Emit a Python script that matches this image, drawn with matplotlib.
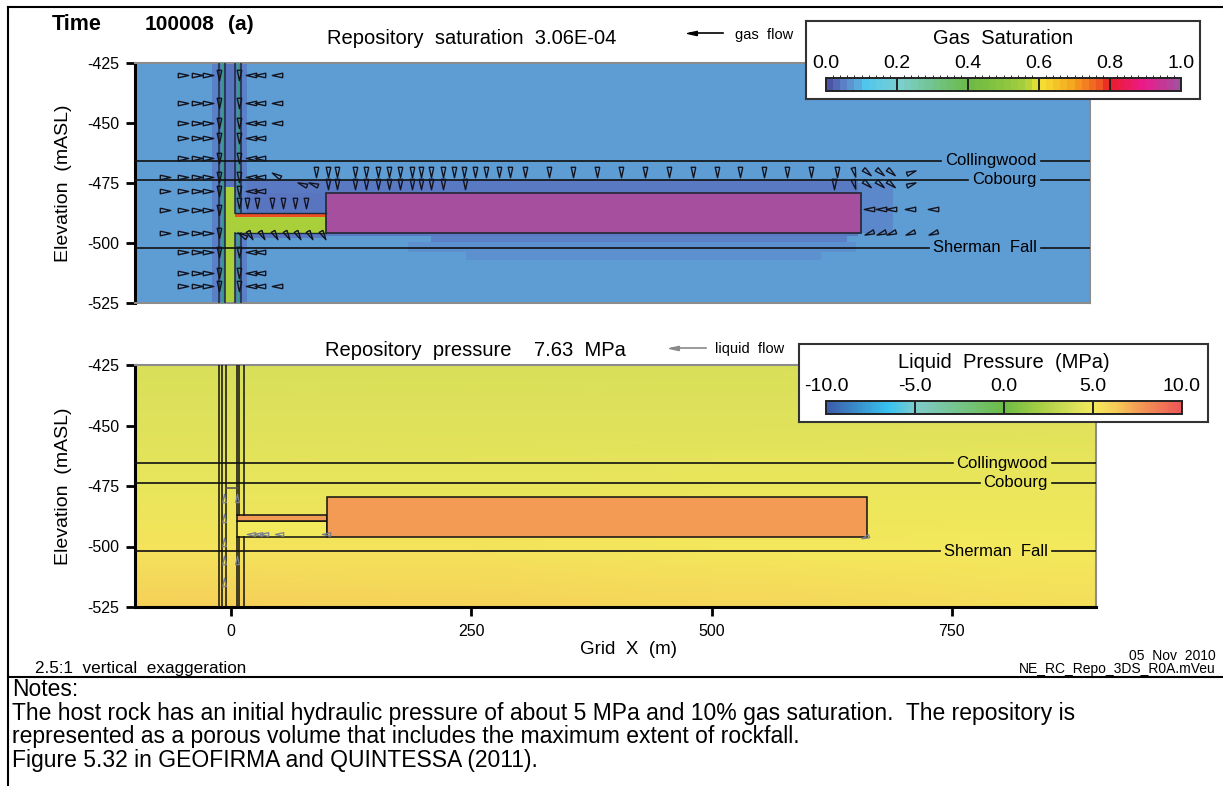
import numpy as np
import matplotlib
matplotlib.use("Agg")
import matplotlib.pyplot as plt
from matplotlib.colors import LinearSegmentedColormap, Normalize, BoundaryNorm
from matplotlib.cm import ScalarMappable
from matplotlib.patches import Rectangle
from matplotlib.lines import Line2D

plt.rcParams['font.family'] = ['Liberation Sans', 'DejaVu Sans']

W, H = 1223, 786

# model section (m)
grid_x_lim = (-100, 900)
elev_lim = (-525, -425)
x_ticks = [0, 250, 500, 750]
elev_ticks = [-425, -450, -475, -500, -525]

formation_names = ['Collingwood', 'Cobourg', 'Sherman  Fall']
formation_elev = [-465.7, -473.7, -502.0]

time_label = '100008'
repo_liquid_saturation = 3.06e-4
repo_pressure = 7.63

# gas saturation blocks: host rock, halo round the repository, shaft, drift, repository
sg_x0 = [-100, 186, 247, 657, 210, 100, 11, 11, 11, -19, 11, -12, 4.6, -6, -6, 4.6, 4.6, 100]
sg_x1 = [900, 655, 618, 694, 646, 657, 657, 100, 100, -12, 17, -6, 11, 4.6, 4.6, 100, 100, 660]
sg_z0 = [-525, -503.6, -507, -495.8, -499.5, -497, -479.3, -487.5, -498, -525, -525, -525, -525,
         -476.5, -525, -495.8, -489.2, -495.8]
sg_z1 = [-425, -499.5, -503.6, -475, -495.8, -495.8, -473.7, -479.3, -495.8, -425, -425, -425, -425,
         -425, -476.5, -489.2, -487.5, -479.3]
sg_val = [0.07, 0.057, 0.057, 0.05, 0.04, 0.035, 0.035, 0.03, 0.035, 0.04, 0.04, 0.03, 0.03,
          0.03, 0.56, 0.56, 0.78, 1.0 - repo_liquid_saturation]

# liquid pressure in the host rock (MPa), nodes on a coarse grid
p_grid_x = [-100, 250, 500, 900]
p_grid_z = [-525, -500, -475, -450, -425]
p_grid = [[6.1, 6.0, 5.8, 5.5],
          [5.3, 5.3, 5.1, 4.95],
          [4.5, 4.5, 4.6, 4.6],
          [4.1, 4.1, 4.1, 4.2],
          [3.9, 3.9, 3.9, 4.0]]

# drift and repository pressure blocks
p_x0 = [5.9, 5.9, 100]
p_x1 = [100, 100, 662]
p_z0 = [-496.2, -489.3, -496.2]
p_z1 = [-489.3, -487.0, -479.4]
p_val = [5.0, repo_pressure, repo_pressure]

# gas flow vectors
gas_rows = [-430.0, -441.5, -450.0, -456.4, -464.5, -472.4, -478.2, -486.2, -495.7, -503.9, -512.4, -517.9]
gas_west_cols = [-50.0, -35.0, -24.0]
gas_far_west_rows = [-472.4, -478.2, -486.2, -495.7]
gas_east_rows = [-430.0, -441.5, -450.0, -456.4, -464.5, -472.4, -478.2, -503.9, -512.4, -517.9]
gas_east_cols = [21.0, 31.0]
gas_far_east_rows = [-430.0, -441.5, -450.0, -517.9]
crown_a_x = [90, 102, 111, 130, 142, 154, 166, 178, 190, 199, 210, 222, 234, 244, 256, 268, 281,
             293, 308, 334, 359, 384, 409, 434, 459, 484, 509, 534, 559, 583, 608, 635]
crown_b_x = [102, 111, 130, 142, 154, 166, 178, 190, 199, 210, 222, 246, 632]
crown_edge_x = [653, 667, 680, 692, 713]
crown_edge_dir = [285, 320, 320, 320, 20]
flank_x = [669, 681, 692, 711, 736]
drift_roof_x = [8.7, 17.3, 27.7, 43.3, 55.4, 67.6, 79.0]
drift_floor_x = [20.8, 33.0, 46.8, 59.0, 71.0, 83.0, 97.0]

# liquid flow vectors
liq_x = [-7, -7, -7, -7, -7, 6.2, 6.2, 20.8, 28, 34, 50, 98.8, 660]
liq_z = [-480, -488.4, -498, -505.6, -514.6, -480, -505.6, -494.8, -494.8, -494.8, -494.8, -494.8, -496]
liq_dir = [90, 90, 90, 90, 90, 90, 90, 180, 180, 180, 180, 180, 200]

sg_cmap = LinearSegmentedColormap.from_list('gas', [
    (0.00, '#4a55a5'), (0.01, '#4f5ead'), (0.03, '#5a78c2'), (0.05, '#5b8bcc'),
    (0.07, '#5e9fd6'), (0.10, '#4fc6ee'), (0.20, '#7ccfcf'), (0.30, '#72c38a'),
    (0.40, '#6cb944'), (0.50, '#8cc63f'), (0.56, '#a8cf3b'), (0.60, '#f3e633'),
    (0.70, '#f5a21e'), (0.78, '#ef4e24'), (0.80, '#ec1c24'), (0.90, '#ec1a8a'),
    (1.00, '#a64f9e')])
sg_norm = Normalize(0, 1)

p_cmap = LinearSegmentedColormap.from_list('pres', [
    (0.0, '#3c5ba8'), (0.175, '#36c3f0'), (0.25, '#7fcbcc'), (0.5, '#6cbb45'),
    (0.6, '#a6ce45'), (0.7, '#dce05a'), (0.75, '#f3ea5c'), (0.82, '#f6c957'),
    (0.88, '#f39b55'), (1.0, '#ee5657')])
p_norm = Normalize(-10, 10)

fig = plt.figure(figsize=(W / 100, H / 100), dpi=100)


def fbox(l, t, r, b):
    return [l / W, 1 - b / H, (r - l) / W, (b - t) / H]


def fx(px):
    return px / W


def fy(py):
    return 1 - py / H


def flow_marker(angle):
    a = np.deg2rad(angle)
    base = np.array([[-0.5, 0.22], [0.5, 0.0], [-0.5, -0.22], [-0.5, 0.22]])
    rot = np.array([[np.cos(a), -np.sin(a)], [np.sin(a), np.cos(a)]])
    return base @ rot.T


def arrow(ax, x, z, angle, color='#14141f', ms=7.5, mew=1.0):
    ax.plot(x, z, ls='none', marker=flow_marker(angle), ms=ms, mfc='none', mec=color, mew=mew,
            zorder=6)


def setup_panel(ax, width_px):
    ax.set_xlim(grid_x_lim)
    ax.set_ylim(elev_lim)
    ax.set_yticks(elev_ticks)
    ax.set_yticklabels([str(v) for v in elev_ticks])
    ax.tick_params(axis='y', length=6.5, width=2, pad=5, labelsize=11.5)
    ax.set_ylabel('Elevation  (mASL)', fontsize=14)
    ax.yaxis.set_label_coords(-63 / width_px, 0.5)
    ax.spines['left'].set_linewidth(2.2)
    for s in ('top', 'right', 'bottom'):
        ax.spines[s].set_color('#8c8c8c')
        ax.spines[s].set_linewidth(1.5)


def formation_lines(ax, x_label):
    renderer = fig.canvas.get_renderer()
    inv = ax.transData.inverted()
    for name, z in zip(formation_names, formation_elev):
        t = ax.text(x_label, z, name, ha='right', va='center', fontsize=12, zorder=7)
        bb = t.get_window_extent(renderer)
        xl = inv.transform((bb.x0 - 4, 0))[0]
        xr = inv.transform((bb.x1 + 4, 0))[0]
        ax.plot([grid_x_lim[0], xl], [z, z], color='#111111', lw=1.2, zorder=5)
        ax.plot([xr, grid_x_lim[1]], [z, z], color='#111111', lw=1.2, zorder=5)


def colorbar_box(box, bar, cmap, norm, levels, labels, title, title_y, dividers, stepped):
    bax = fig.add_axes(fbox(*box))
    bax.set_xticks([])
    bax.set_yticks([])
    for s in bax.spines.values():
        s.set_color('#333333')
        s.set_linewidth(1.5)
    bax.set_zorder(8)
    cax = fig.add_axes(fbox(*bar))
    cax.set_zorder(9)
    if stepped:
        sm = ScalarMappable(norm=BoundaryNorm(np.linspace(norm.vmin, norm.vmax, 51), 256), cmap=cmap)
    else:
        sm = ScalarMappable(norm=norm, cmap=cmap)
    cb = fig.colorbar(sm, cax=cax, orientation='horizontal')
    cb.outline.set_linewidth(1.4)
    cb.outline.set_edgecolor('#222222')
    cax.xaxis.set_ticks_position('top')
    cb.set_ticks(levels)
    cb.set_ticklabels(labels)
    cax.tick_params(axis='x', length=0, pad=4, labelsize=14, top=True, bottom=False,
                    labeltop=True, labelbottom=False)
    for d in dividers:
        cax.axvline(d, color='#222222', lw=1.4)
    fig.text(fx((box[0] + box[2]) / 2), fy(title_y), title, ha='center', va='center',
             fontsize=14.5, zorder=10)


# ---- gas saturation panel ----
ax1 = fig.add_axes(fbox(135, 63, 1090, 303))
setup_panel(ax1, 955)
ax1.set_xticks([])
for x0, x1, z0, z1, v in zip(sg_x0, sg_x1, sg_z0, sg_z1, sg_val):
    ax1.add_patch(Rectangle((x0, z0), x1 - x0, z1 - z0, facecolor=sg_cmap(sg_norm(v)),
                            edgecolor='none', zorder=1))
ax1.add_patch(Rectangle((100, -495.8), 560, 16.5, facecolor='none', edgecolor='#2b2b3b',
                        lw=1.3, zorder=4))
# shaft walls: dark edges with a teal liner
for x in (-12, -6):
    ax1.plot([x, x], elev_lim, color='#1a2a3a', lw=1.1, zorder=4)
ax1.plot([-9, -9], elev_lim, color='#3a9a8c', lw=1.6, zorder=3)
for x in (4.6, 11):
    ax1.plot([x, x], [-525, -495.8], color='#1a2a3a', lw=1.1, zorder=4)
    ax1.plot([x, x], [-487.5, -425], color='#1a2a3a', lw=1.1, zorder=4)
ax1.plot([7.8, 7.8], [-525, -495.8], color='#3a9a8c', lw=1.6, zorder=3)
ax1.plot([7.8, 7.8], [-487.5, -425], color='#3a9a8c', lw=1.6, zorder=3)
ax1.plot([4.6, 100], [-487.5, -487.5], color='#1a2a3a', lw=1.0, zorder=4)
ax1.plot([4.6, 100], [-495.8, -495.8], color='#1a2a3a', lw=1.0, zorder=4)

for z in gas_rows:
    for x in gas_west_cols:
        arrow(ax1, x, z, 0)
    arrow(ax1, -12, z, 270)
for z in gas_far_west_rows:
    arrow(ax1, -69, z, 0)
for z in gas_east_rows:
    arrow(ax1, 8.7, z, 270)
    for x in gas_east_cols:
        arrow(ax1, x, z, 180)
for z in gas_far_east_rows:
    arrow(ax1, 48.5, z, 180)
arrow(ax1, 48, -471.7, 150)
for x in crown_a_x:
    arrow(ax1, x, -470.3, 270)
for x in crown_b_x:
    arrow(ax1, x, -475.5, 270)
for x in (75, 86):
    arrow(ax1, x, -475.5, 160)
for x, d in zip(crown_edge_x, crown_edge_dir):
    arrow(ax1, x, -470.3, d)
    arrow(ax1, x, -475.5, d)
for x in flank_x:
    arrow(ax1, x, -486.0, 180)
    arrow(ax1, x, -495.8, 200)
for x in drift_roof_x:
    arrow(ax1, x, -483.5, 270)
for x in drift_floor_x:
    arrow(ax1, x, -496.7, 300)
arrow(ax1, 12, -496.7, 150)
formation_lines(ax1, 844)

# ---- liquid pressure panel ----
ax2 = fig.add_axes(fbox(135, 365, 1096, 607))
setup_panel(ax2, 961)
ax2.spines['bottom'].set_color('black')
ax2.spines['bottom'].set_linewidth(2.2)
ax2.set_xticks(x_ticks)
ax2.set_xticklabels([str(v) for v in x_ticks])
ax2.tick_params(axis='x', length=6.5, width=2, pad=6, labelsize=11.5)
ax2.set_xlabel('Grid  X  (m)', fontsize=13.5)
ax2.xaxis.set_label_coords((628 - 135) / 961, -(641 - 607) / 242)
gx, gz = np.meshgrid(p_grid_x, p_grid_z)
ax2.pcolormesh(gx, gz, np.array(p_grid), shading='gouraud', cmap=p_cmap, norm=p_norm, zorder=0)
for x0, x1, z0, z1, v in zip(p_x0, p_x1, p_z0, p_z1, p_val):
    ax2.add_patch(Rectangle((x0, z0), x1 - x0, z1 - z0, facecolor=p_cmap(p_norm(v)),
                            edgecolor='#111111', lw=1.1, zorder=3))
for x in (-12.3, -9.7, -5.2):
    ax2.plot([x, x], elev_lim, color='#111111', lw=1.1, zorder=4)
for x in (5.9, 8.3, 13.2):
    ax2.plot([x, x], [-525, -496.2], color='#111111', lw=1.1, zorder=4)
    ax2.plot([x, x], [-487.0, -425], color='#111111', lw=1.1, zorder=4)
ax2.plot([-5.2, 5.9], [-476, -476], color='#555555', lw=1.2, zorder=4)
for x, z, d in zip(liq_x, liq_z, liq_dir):
    arrow(ax2, x, z, d, color='#7a8090', ms=6, mew=0.9)
formation_lines(ax2, 850)

# ---- colour legends ----
colorbar_box((806, 21, 1200, 99), (826, 78, 1181, 91), sg_cmap, sg_norm,
             [0.0, 0.2, 0.4, 0.6, 0.8, 1.0], ['0.0', '0.2', '0.4', '0.6', '0.8', '1.0'],
             'Gas  Saturation', 38.5, [0.2, 0.4, 0.6, 0.8], True)
colorbar_box((799, 344, 1208, 422), (826, 401, 1182, 414), p_cmap, p_norm,
             [-10, -5, 0, 5, 10], ['-10.0', '-5.0', '0.0', '5.0', '10.0'],
             'Liquid  Pressure  (MPa)', 362.5, [-5, 0, 5], False)

# ---- header texts ----
fig.text(fx(52), fy(25), 'Time', fontsize=15.5, fontweight='bold', va='center')
fig.text(fx(145), fy(25), time_label, fontsize=15, fontweight='bold', va='center')
fig.text(fx(228), fy(25), '(a)', fontsize=15, fontweight='bold', va='center')
fig.text(fx(327), fy(38), f'Repository  saturation  {repo_liquid_saturation:.2E}',
         fontsize=14.5, va='center')
fig.text(fx(325), fy(351), f'Repository  pressure    {repo_pressure:.2f}  MPa',
         fontsize=14.5, va='center')

# flow legends
fig.add_artist(Line2D([fx(690), fx(723)], [fy(33), fy(33)], color='black', lw=1.2))
fig.add_artist(Line2D([fx(692)], [fy(33)], marker=flow_marker(180), ms=7, color='black',
                      transform=fig.transFigure))
fig.text(fx(735), fy(35), 'gas  flow', fontsize=10.5, va='center')
fig.add_artist(Line2D([fx(672), fx(706)], [fy(348), fy(348)], color='#8a8a8a', lw=1.2))
fig.add_artist(Line2D([fx(674)], [fy(348)], marker=flow_marker(180), ms=7, color='#8a8a8a',
                      transform=fig.transFigure))
fig.text(fx(715), fy(349), 'liquid  flow', fontsize=10.5, va='center')

# ---- footer texts ----
fig.text(fx(35), fy(669), '2.5:1  vertical  exaggeration', fontsize=12.3, va='center')
fig.text(fx(1216), fy(656), '05  Nov  2010', fontsize=10, ha='right', va='center')
fig.text(fx(1216), fy(669), 'NE_RC_Repo_3DS_R0A.mVeu', fontsize=10, ha='right', va='center')

# frame lines
for xs, ys in (([8, 1223], [7, 7]), ([8, 8], [7, 786]), ([8, 1223], [677, 677])):
    fig.add_artist(Line2D([fx(v) for v in xs], [fy(v) for v in ys], color='black', lw=1.5))

notes = ['Notes:',
         'The host rock has an initial hydraulic pressure of about 5 MPa and 10% gas saturation.  '
         'The repository is',
         'represented as a porous volume that includes the maximum extent of rockfall.',
         'Figure 5.32 in GEOFIRMA and QUINTESSA (2011).']
for i, line in enumerate(notes):
    fig.text(fx(12), fy(690 + 23.5 * i), line, fontsize=16.5, va='center')

fig.savefig('out.png', dpi=100)
